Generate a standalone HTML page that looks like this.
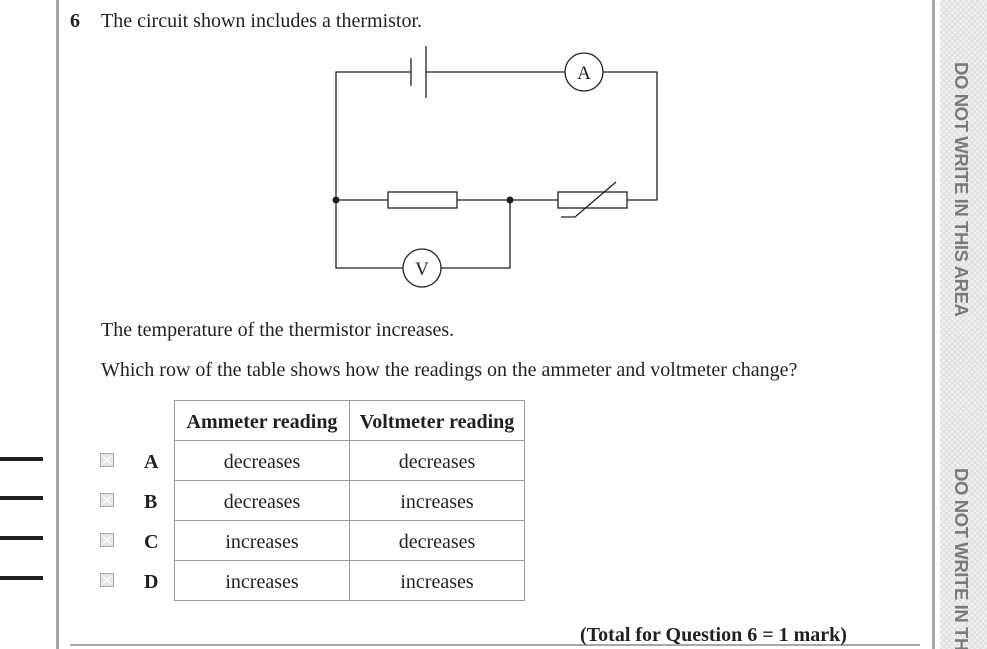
<!DOCTYPE html>
<html><head><meta charset="utf-8"><style>
html,body{margin:0;padding:0;background:#fff;width:987px;height:649px;overflow:hidden;}
body{position:relative;font-family:"Liberation Serif",serif;color:#231f20;}
.t{position:absolute;font-size:20px;white-space:nowrap;line-height:1;}
.b{font-weight:bold;}
.bar{position:absolute;left:0;width:43px;height:4px;background:#231f20;}
table{position:absolute;left:174px;top:400px;border-collapse:collapse;font-size:20px;table-layout:fixed;}
td{border:1.3px solid #999;text-align:center;padding:0;line-height:20px;padding-top:2px;box-sizing:border-box;}
.hatch{position:absolute;left:940px;top:0;width:47px;height:649px;overflow:hidden;
background-color:#f1f1f1;
background-image:repeating-linear-gradient(45deg,#ddd 0 1px,transparent 1px 4px),repeating-linear-gradient(-45deg,#ddd 0 1px,transparent 1px 4px);}
.vt{position:absolute;font-family:"Liberation Sans",sans-serif;font-weight:bold;font-size:18.5px;color:#7a7a7a;writing-mode:vertical-rl;white-space:nowrap;letter-spacing:-0.4px;}
</style></head><body>
<div style="position:absolute;left:56px;top:0;width:3px;height:649px;background:#a7a7a9"></div>
<div style="position:absolute;left:932px;top:0;width:3px;height:649px;background:#a7a7a9"></div>
<div class="hatch">
<div class="vt" style="left:10px;top:62px;">DO NOT WRITE IN THIS AREA</div>
<div class="vt" style="left:10px;top:468px;">DO NOT WRITE IN THIS AREA</div>
</div>
<div style="position:absolute;left:70px;top:644px;width:850px;height:2px;background:#a7a7a9"></div>

<div class="bar" style="top:457px"></div>
<div class="bar" style="top:496px"></div>
<div class="bar" style="top:536px"></div>
<div class="bar" style="top:576px"></div>

<div class="t b" style="left:70px;top:11px;">6</div>
<div class="t" style="left:101px;top:11px;">The circuit shown includes a thermistor.</div>
<div class="t" style="left:101px;top:320px;">The temperature of the thermistor increases.</div>
<div class="t" style="left:101px;top:360px;">Which row of the table shows how the readings on the ammeter and voltmeter change?</div>

<svg style="position:absolute;left:0;top:0" width="987" height="649">
<g stroke="#231f20" stroke-width="1.3" fill="none">
<polyline points="411,72 336,72 336,268 403,268"/>
<line x1="426" y1="72" x2="565" y2="72"/>
<polyline points="603,72 657,72 657,200 627,200"/>
<line x1="411" y1="58" x2="411" y2="86"/>
<line x1="426" y1="46" x2="426" y2="98"/>
<circle cx="584" cy="72" r="19"/>
<circle cx="422" cy="268" r="19"/>
<polyline points="441,268 510,268 510,200"/>
<line x1="336" y1="200" x2="388" y2="200"/>
<rect x="388" y="192" width="69" height="16"/>
<line x1="457" y1="200" x2="558" y2="200"/>
<rect x="558" y="192" width="69" height="16"/>
<polyline points="561,217 575,217 616,182"/>
</g>
<circle cx="336" cy="200" r="3.5" fill="#231f20"/>
<circle cx="510" cy="200" r="3.5" fill="#231f20"/>
<text x="584" y="79" font-size="19" text-anchor="middle" font-family="Liberation Serif" fill="#231f20">A</text>
<text x="422" y="275" font-size="19" text-anchor="middle" font-family="Liberation Serif" fill="#231f20">V</text>
<g fill="#e6e6e6" stroke="#aaa" stroke-width="1">
<rect x="100.5" y="453.5" width="13" height="13"/>
<rect x="100.5" y="493.5" width="13" height="13"/>
<rect x="100.5" y="533.5" width="13" height="13"/>
<rect x="100.5" y="573.5" width="13" height="13"/>
</g>
<g stroke="#fff" stroke-width="1.2">
<path d="M103,456 L111,464 M111,456 L103,464"/>
<path d="M103,496 L111,504 M111,496 L103,504"/>
<path d="M103,536 L111,544 M111,536 L103,544"/>
<path d="M103,576 L111,584 M111,576 L103,584"/>
</g>
</svg>

<table>
<tr><td class="b" style="width:175px;height:40px">Ammeter reading</td><td class="b" style="width:175px;height:40px">Voltmeter reading</td></tr>
<tr><td style="height:40px">decreases</td><td>decreases</td></tr>
<tr><td style="height:40px">decreases</td><td>increases</td></tr>
<tr><td style="height:40px">increases</td><td>decreases</td></tr>
<tr><td style="height:40px">increases</td><td>increases</td></tr>
</table>

<div class="t b" style="left:144px;top:452px;">A</div>
<div class="t b" style="left:144px;top:492px;">B</div>
<div class="t b" style="left:144px;top:532px;">C</div>
<div class="t b" style="left:144px;top:572px;">D</div>

<div class="t b" style="left:580px;top:625px;line-height:20px;height:20px;">(Total for Question 6 = 1 mark)</div>
</body></html>
